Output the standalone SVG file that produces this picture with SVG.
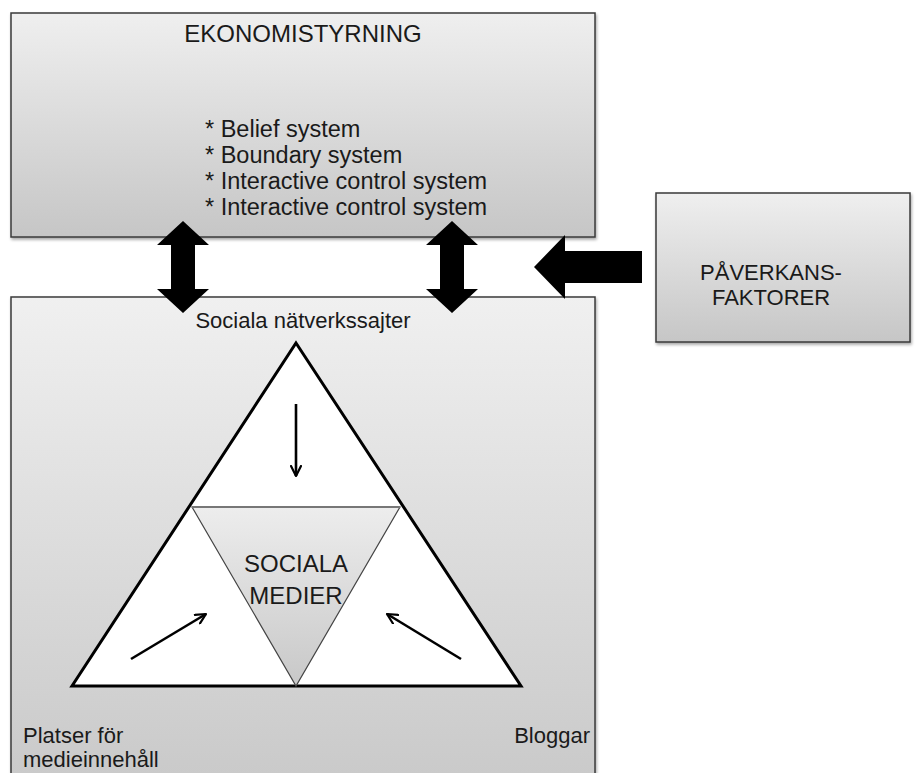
<svg xmlns="http://www.w3.org/2000/svg" width="915" height="773" viewBox="0 0 915 773">
  <defs>
    <linearGradient id="boxFill" x1="0" y1="0" x2="0" y2="1">
      <stop offset="0" stop-color="#efefef"/>
      <stop offset="1" stop-color="#c6c6c6"/>
    </linearGradient>
    <linearGradient id="tallFill" x1="0" y1="0" x2="0" y2="1">
      <stop offset="0" stop-color="#f0f0f0"/>
      <stop offset="1" stop-color="#c9c9c9"/>
    </linearGradient>
    <linearGradient id="coreFill" x1="0" y1="0" x2="0" y2="1">
      <stop offset="0" stop-color="#ededed"/>
      <stop offset="1" stop-color="#c8c8c8"/>
    </linearGradient>
    <filter id="shadow" x="-5%" y="-5%" width="110%" height="115%">
      <feDropShadow dx="1" dy="2" stdDeviation="1.5" flood-color="#000" flood-opacity="0.35"/>
    </filter>
    <marker id="vhead" viewBox="0 0 12 12" refX="11" refY="6" markerWidth="12" markerHeight="12" markerUnits="userSpaceOnUse" orient="auto">
      <path d="M1,1 L11,6 L1,11" fill="none" stroke="#000" stroke-width="2.2" stroke-linecap="round" stroke-linejoin="round"/>
    </marker>
  </defs>
  <style>
    .box { stroke: #3a3a3a; stroke-width: 1.5; filter: url(#shadow); }
    .txt { font-family: "Liberation Sans", Arial, Helvetica, sans-serif; fill: #1a1a1a; }
    .big { font-size: 24px; }
    .item { font-size: 23.5px; }
    .lbl { font-size: 22px; }
    .core { font-size: 24px; }
    .fat { fill: #000; }
    .thin { stroke: #000; stroke-width: 2.6; fill: none; marker-end: url(#vhead); }
  </style>

  <rect width="915" height="773" fill="#ffffff"/>

  <!-- management control box -->
  <g id="ekonomistyrning">
    <rect class="box" x="11" y="13" width="584" height="224" fill="url(#boxFill)"/>
    <text class="txt big" x="303" y="42" text-anchor="middle">EKONOMISTYRNING</text>
    <text class="txt item" x="205" y="137">* Belief system</text>
    <text class="txt item" x="205" y="163">* Boundary system</text>
    <text class="txt item" x="205" y="189">* Interactive control system</text>
    <text class="txt item" x="205" y="215">* Interactive control system</text>
  </g>

  <!-- influencing factors box -->
  <g id="paverkansfaktorer">
    <rect class="box" x="656" y="193" width="254" height="149" fill="url(#boxFill)"/>
    <text class="txt lbl" x="771" y="280" text-anchor="middle">PÅVERKANS-</text>
    <text class="txt lbl" x="771" y="305" text-anchor="middle">FAKTORER</text>
  </g>

  <!-- social media box with triangle -->
  <g id="sociala-medier">
    <rect class="box" x="11" y="297" width="584" height="490" fill="url(#tallFill)"/>
    <text class="txt lbl" x="303" y="328" text-anchor="middle">Sociala nätverkssajter</text>
    <polygon points="296,343 521,686 72,686" fill="#ffffff" stroke="#000" stroke-width="3" stroke-linejoin="miter"/>
    <polygon points="192,507 400,507 296,686" fill="url(#coreFill)" stroke="#444" stroke-width="1.2"/>
    <line x1="192" y1="507" x2="400" y2="507" stroke="#777" stroke-width="2"/>
    <text class="txt core" x="296" y="572" text-anchor="middle">SOCIALA</text>
    <text class="txt core" x="296" y="604" text-anchor="middle">MEDIER</text>
    <text class="txt lbl" x="23" y="743">Platser för</text>
    <text class="txt lbl" x="23" y="767">medieinnehåll</text>
    <text class="txt lbl" x="590" y="743" text-anchor="end">Bloggar</text>
  </g>

  <!-- connectors -->
  <g id="connectors">
    <polygon class="fat" points="183,221 209,245 195,245 195,289 209,289 183,313 157,289 171,289 171,245 157,245"/>
    <polygon class="fat" points="452,221 478,245 464,245 464,289 478,289 452,313 426,289 440,289 440,245 426,245"/>
    <polygon class="fat" points="534,267 565,235 565,251 642,251 642,283 565,283 565,299"/>
    <line class="thin" x1="296" y1="404" x2="296" y2="476"/>
    <line class="thin" x1="131" y1="659" x2="206" y2="614"/>
    <line class="thin" x1="461" y1="659" x2="387" y2="614"/>
  </g>
</svg>
